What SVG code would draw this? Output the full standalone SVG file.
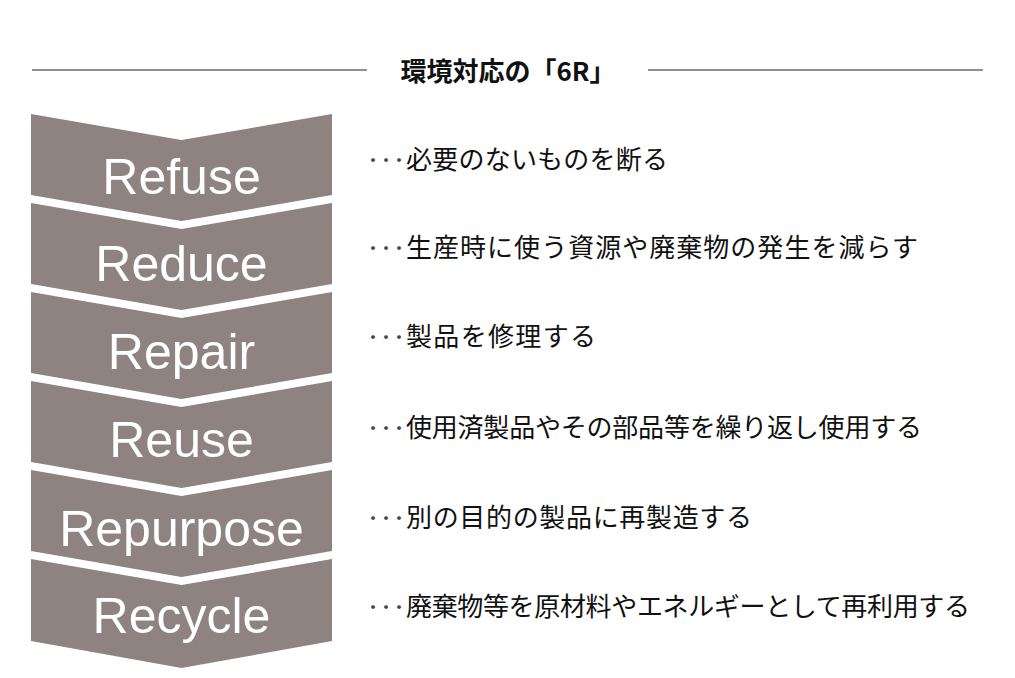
<svg xmlns="http://www.w3.org/2000/svg" width="1015" height="678" viewBox="0 0 1015 678">
<style>
.chev{fill:#8e8381}
.lbl{font-family:"Liberation Sans",Arial,sans-serif;font-size:50px;fill:#ffffff;text-anchor:middle}
.desc{font-family:"Noto Sans CJK JP",sans-serif;font-size:26px;fill:#111111}
.dots{font-size:18px;fill:#444444}
.title{font-family:"Noto Sans CJK JP",sans-serif;font-size:26px;font-weight:bold;fill:#111111;text-anchor:middle}
.rule{stroke:#222222;stroke-width:1.2}
</style>
<rect width="1015" height="678" fill="#ffffff"/>
<g id="title">
<line class="rule" x1="32" y1="70" x2="367" y2="70"/>
<line class="rule" x1="648" y1="70" x2="983" y2="70"/>
<text class="title" x="508" y="81">環境対応の「6R」</text>
</g>
<g id="connectors"/>
<g id="refuse">
<path class="chev" d="M31,114 L181.5,140 L332,114 L332,195 L181.5,221 L31,195 Z"/>
<text class="lbl" x="181.5" y="194">Refuse</text>
<text class="desc" y="169"><tspan class="dots" x="364 377 390" dy="-2">・・・</tspan><tspan x="406" dy="2" textLength="262">必要のないものを断る</tspan></text>
</g>
<g id="reduce">
<path class="chev" d="M31,203 L181.5,229 L332,203 L332,284 L181.5,310 L31,284 Z"/>
<text class="lbl" x="181.5" y="281">Reduce</text>
<text class="desc" y="257"><tspan class="dots" x="364 377 390" dy="-2">・・・</tspan><tspan x="406" dy="2" textLength="512">生産時に使う資源や廃棄物の発生を減らす</tspan></text>
</g>
<g id="repair">
<path class="chev" d="M31,292 L181.5,318 L332,292 L332,373 L181.5,399 L31,373 Z"/>
<text class="lbl" x="181.5" y="369">Repair</text>
<text class="desc" y="346"><tspan class="dots" x="364 377 390" dy="-2">・・・</tspan><tspan x="406" dy="2" textLength="190">製品を修理する</tspan></text>
</g>
<g id="reuse">
<path class="chev" d="M31,381 L181.5,407 L332,381 L332,462 L181.5,488 L31,462 Z"/>
<text class="lbl" x="181.5" y="457">Reuse</text>
<text class="desc" y="437"><tspan class="dots" x="364 377 390" dy="-2">・・・</tspan><tspan x="406" dy="2" textLength="516">使用済製品やその部品等を繰り返し使用する</tspan></text>
</g>
<g id="repurpose">
<path class="chev" d="M31,470 L181.5,496 L332,470 L332,551 L181.5,577 L31,551 Z"/>
<text class="lbl" x="181.5" y="546">Repurpose</text>
<text class="desc" y="527"><tspan class="dots" x="364 377 390" dy="-2">・・・</tspan><tspan x="406" dy="2" textLength="346">別の目的の製品に再製造する</tspan></text>
</g>
<g id="recycle">
<path class="chev" d="M31,559 L181.5,585 L332,559 L332,641 L181.5,668 L31,641 Z"/>
<text class="lbl" x="181.5" y="633">Recycle</text>
<text class="desc" y="616"><tspan class="dots" x="364 377 390" dy="-2">・・・</tspan><tspan x="406" dy="2" textLength="564">廃棄物等を原材料やエネルギーとして再利用する</tspan></text>
</g>
</svg>
